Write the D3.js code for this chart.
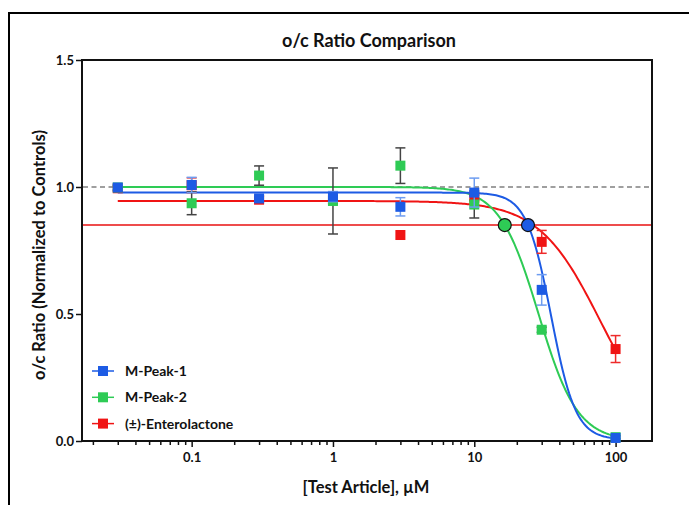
<!doctype html>
<html>
	<head>
		<meta charset="utf-8">
		<script src="https://d3js.org/d3.v7.min.js"></script>
		<style>
			body { margin: 0; background: #fff; }
			text { font-family: Lato, "Open Sans", sans-serif; font-weight: bold; fill: #111; }
		</style>
	</head>
	<body>
		<div id="chart"></div>
		<script>
            // concentrations (uM) and mean +/- error for each test article
            const concentrations = [0.03, 0.1, 0.3, 1, 3, 10, 30, 100];
            const seriesNames = ["M-Peak-1", "M-Peak-2", "(±)-Enterolactone"];
            const peak1Mean = [0.998, 1.008, 0.955, 0.962, 0.922, 0.978, 0.595, 0.012];
            const peak1Err = [0.01, 0.03, 0.012, 0.02, 0.036, 0.057, 0.06, 0.005];
            const peak2Mean = [0.998, 0.936, 1.045, 0.945, 1.084, 0.931, 0.438, 0.015];
            const peak2Err = [0.01, 0.045, 0.038, 0.13, 0.07, 0.053, 0.01, 0.005];
            const enteroMean = [0.995, 1.007, 0.95, 0.95, 0.811, 0.958, 0.784, 0.362];
            const enteroErr = [0.01, 0.029, 0.012, 0.015, 0, 0.01, 0.045, 0.053];

            // four-parameter logistic fits (top, bottom, IC50, hill), same order as seriesNames
            const fitTop = [0.978, 1.0, 0.945];
            const fitBottom = [0.005, 0, 0];
            const fitIC50 = [35, 28.5, 78];
            const fitHill = [5, 3.15, 2.0];

            const controlLevel = 1.0, thresholdLevel = 0.85;
            const yTicks = [0, 0.5, 1.0, 1.5];
            const xMajorTicks = [0.1, 1, 10, 100];

            const width = 689, height = 505;
            const plotLeft = 82, plotRight = 652, plotTop = 60, plotBottom = 441;
            const colors = ["#1d5be4", "#2ecb55", "#f01414"];
            const errColors = ["#6d9cf0", "#444", "#ee2a2a"];

            const svg = d3.select("#chart").append("svg")
                .attr("width", width)
                .attr("height", height);

            // outer frame
            svg.append("rect")
                .attr("x", 9).attr("y", 13)
                .attr("width", width).attr("height", height)
                .attr("fill", "none").attr("stroke", "#000").attr("stroke-width", 2);

            const x = d3.scaleLog().domain([0.01675, 181]).range([plotLeft, plotRight]);
            const y = d3.scaleLinear().domain([0, 1.5]).range([plotBottom, plotTop]);

            svg.append("text")
                .attr("x", 369).attr("y", 47)
                .attr("text-anchor", "middle")
                .style("font-size", "18px")
                .text("o/c Ratio Comparison");

            // plot box
            svg.append("rect")
                .attr("x", plotLeft).attr("y", plotTop)
                .attr("width", plotRight - plotLeft).attr("height", plotBottom - plotTop)
                .attr("fill", "none").attr("stroke", "#111").attr("stroke-width", 2);

            // axes
            svg.append("g")
                .attr("transform", "translate(" + plotLeft + ",0)")
                .call(d3.axisLeft(y).tickValues(yTicks).tickFormat(d3.format(".1f")).tickSize(6).tickPadding(2));

            const minorTicks = [];
            [0.01, 0.1, 1, 10, 100].forEach(function (dec) {
                for (let k = 2; k <= 9; k++) {
                    const v = dec * k;
                    if (v > x.domain()[0] && v < x.domain()[1]) minorTicks.push(v);
                }
            });

            svg.append("g")
                .attr("transform", "translate(0," + plotBottom + ")")
                .call(d3.axisBottom(x).tickValues(minorTicks).tickFormat("").tickSize(4));

            svg.append("g")
                .attr("transform", "translate(0," + plotBottom + ")")
                .call(d3.axisBottom(x).tickValues(xMajorTicks).tickFormat(d3.format("~g")).tickSize(6).tickPadding(6));

            svg.selectAll(".domain").attr("stroke", "none");
            svg.selectAll(".tick line").attr("stroke", "#111").attr("stroke-width", 1.5);
            svg.selectAll(".tick text").style("font-size", "13px").attr("fill", "#111");

            svg.append("text")
                .attr("transform", "translate(45," + 255 + ") rotate(-90)")
                .attr("text-anchor", "middle")
                .style("font-size", "16.5px")
                .text("o/c Ratio (Normalized to Controls)");

            svg.append("text")
                .attr("x", 366).attr("y", 493)
                .attr("text-anchor", "middle")
                .style("font-size", "16.5px")
                .text("[Test Article], µM");

            // reference lines
            svg.append("line")
                .attr("x1", plotLeft + 1).attr("x2", plotRight - 1)
                .attr("y1", y(controlLevel)).attr("y2", y(controlLevel))
                .attr("stroke", "#808080").attr("stroke-width", 1.7)
                .attr("stroke-dasharray", "5,3.5");

            svg.append("line")
                .attr("x1", plotLeft + 1).attr("x2", plotRight - 1)
                .attr("y1", y(thresholdLevel)).attr("y2", y(thresholdLevel))
                .attr("stroke", "#e81010").attr("stroke-width", 1.5);

            const means = [peak1Mean, peak2Mean, enteroMean];
            const errs = [peak1Err, peak2Err, enteroErr];

            function logistic(i, c) {
                return fitBottom[i] + (fitTop[i] - fitBottom[i]) / (1 + Math.pow(c / fitIC50[i], fitHill[i]));
            }

            const lo = Math.log10(concentrations[0]), hi = Math.log10(concentrations[concentrations.length - 1]);
            const curveX = d3.range(0, 301).map(function (k) {
                return Math.pow(10, lo + k / 300 * (hi - lo));
            });

            const line = d3.line()
                .x(function (d) { return x(d[0]); })
                .y(function (d) { return y(d[1]); });

            // drawing order: red, green, blue
            const order = [2, 1, 0];

            order.forEach(function (i) {
                svg.append("path")
                    .datum(curveX.map(function (c) { return [c, logistic(i, c)]; }))
                    .attr("d", line)
                    .attr("fill", "none")
                    .attr("stroke", colors[i])
                    .attr("stroke-width", 2);
            });

            order.forEach(function (i) {
                const pts = concentrations.map(function (c, j) {
                    return { c: c, m: means[i][j], e: errs[i][j] };
                });
                const g = svg.append("g");
                const bars = g.selectAll("g.err").data(pts.filter(function (d) { return d.e > 0; }))
                    .enter().append("g").attr("class", "err")
                    .attr("stroke", errColors[i]).attr("stroke-width", 1.5);
                bars.append("line")
                    .attr("x1", function (d) { return x(d.c); })
                    .attr("x2", function (d) { return x(d.c); })
                    .attr("y1", function (d) { return y(d.m + d.e); })
                    .attr("y2", function (d) { return y(d.m - d.e); });
                [1, -1].forEach(function (s) {
                    bars.append("line")
                        .attr("x1", function (d) { return x(d.c) - 5; })
                        .attr("x2", function (d) { return x(d.c) + 5; })
                        .attr("y1", function (d) { return y(d.m + s * d.e); })
                        .attr("y2", function (d) { return y(d.m + s * d.e); });
                });
                g.selectAll("rect").data(pts)
                    .enter().append("rect")
                    .attr("x", function (d) { return x(d.c) - 5; })
                    .attr("y", function (d) { return y(d.m) - 5; })
                    .attr("width", 10).attr("height", 10)
                    .attr("fill", colors[i]);
            });

            // threshold crossings (circles) for the two metabolites
            [1, 0].forEach(function (i) {
                const r = (fitTop[i] - fitBottom[i]) / (thresholdLevel - fitBottom[i]) - 1;
                const cx = fitIC50[i] * Math.pow(r, 1 / fitHill[i]);
                svg.append("circle")
                    .attr("cx", x(cx)).attr("cy", y(thresholdLevel))
                    .attr("r", 6.5)
                    .attr("fill", colors[i])
                    .attr("stroke", "#111").attr("stroke-width", 1.2);
            });

            // legend
            const legend = svg.append("g");
            seriesNames.forEach(function (name, i) {
                const ly = 371 + i * 26.3;
                legend.append("line")
                    .attr("x1", 92).attr("x2", 114)
                    .attr("y1", ly).attr("y2", ly)
                    .attr("stroke", colors[i]).attr("stroke-width", 1.5);
                legend.append("rect")
                    .attr("x", 98).attr("y", ly - 5)
                    .attr("width", 10).attr("height", 10)
                    .attr("fill", colors[i]);
                legend.append("text")
                    .attr("x", 125).attr("y", ly + 5)
                    .style("font-size", "14px")
                    .text(name);
            });
		</script>
	</body>
</html>
